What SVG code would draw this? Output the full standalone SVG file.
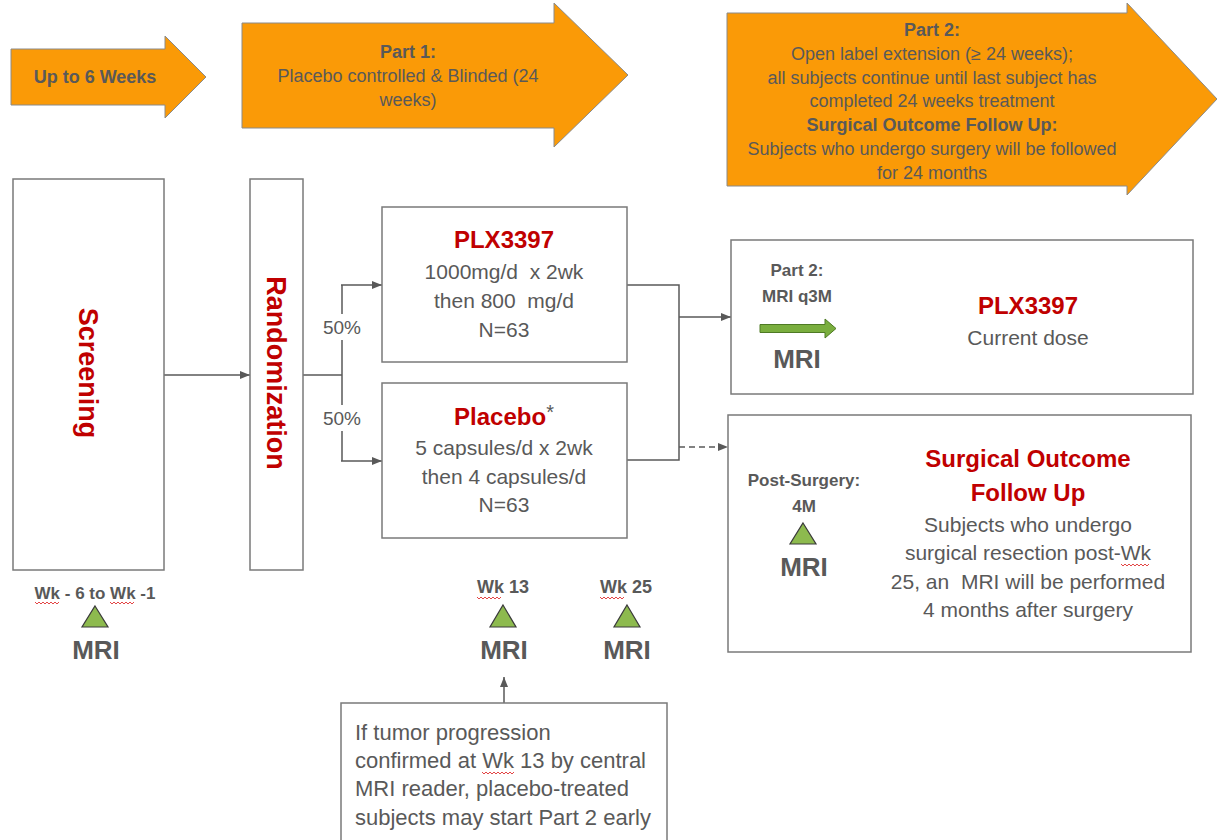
<svg xmlns="http://www.w3.org/2000/svg" width="1217" height="840" viewBox="0 0 1217 840">
<style>
.t{font-family:"Liberation Sans",Arial,sans-serif;fill:#595959;text-anchor:middle}
.b{font-weight:bold}
.r{fill:#C00000;font-weight:bold}
.pre{white-space:pre}
.box{fill:#fff;stroke:#7a7a7a;stroke-width:1.5}
.orange{fill:#FA9A07;stroke:#8a8a8a;stroke-width:1}
.c{fill:none;stroke:#595959;stroke-width:1.5}
.tri{fill:#8DBA4E;stroke:#3a3a3a;stroke-width:1.2}
.sq{fill:none;stroke:#e03030;stroke-width:0.9}
</style>
<defs>
<marker id="ah" viewBox="0 0 10 8" refX="10" refY="4" markerWidth="10" markerHeight="8" markerUnits="userSpaceOnUse" orient="auto">
<path d="M0,0 L10,4 L0,8 Z" fill="#595959"/>
</marker>
</defs>
<rect width="1217" height="840" fill="#fff"/>

<g id="arrow-weeks">
<polygon class="orange" points="11,49 165,49 165,36 206,77 165,118 165,105 11,105"/>
<text class="t b" x="95" y="83" font-size="18">Up to 6 Weeks</text>
</g>
<g id="arrow-part1">
<polygon class="orange" points="242,23 554,23 554,3 628,75 554,147 554,128 242,128"/>
<text class="t b" x="408" y="58" font-size="18">Part 1:</text>
<text class="t" x="408" y="82" font-size="18">Placebo controlled &amp; Blinded (24</text>
<text class="t" x="408" y="106" font-size="18">weeks)</text>
</g>
<g id="arrow-part2">
<polygon class="orange" points="727,13 1127,13 1127,3 1217,99 1127,195 1127,186 727,186"/>
<text class="t b" x="932" y="36" font-size="18">Part 2:</text>
<text class="t" x="932" y="60" font-size="18">Open label extension (≥ 24 weeks);</text>
<text class="t" x="932" y="84" font-size="18">all subjects continue until last subject has</text>
<text class="t" x="932" y="107" font-size="18">completed 24 weeks treatment</text>
<text class="t b" x="932" y="131" font-size="18">Surgical Outcome Follow Up:</text>
<text class="t" x="932" y="155" font-size="18">Subjects who undergo surgery will be followed</text>
<text class="t" x="932" y="179" font-size="18">for 24 months</text>
</g>

<g id="connectors">
<line class="c" x1="164" y1="375" x2="250" y2="375" marker-end="url(#ah)"/>
<line class="c" x1="303" y1="375" x2="342" y2="375" stroke-width="2.5"/>
<line class="c" x1="342" y1="285" x2="342" y2="461"/>
<line class="c" x1="341" y1="285" x2="382" y2="285" marker-end="url(#ah)"/>
<line class="c" x1="341" y1="461" x2="382" y2="461" marker-end="url(#ah)"/>
<polyline class="c" points="627,285 679,285 679,460 627,460"/>
<line class="c" x1="679" y1="317" x2="731" y2="317" stroke-width="2.5" marker-end="url(#ah)"/>
<line class="c" x1="679" y1="447" x2="728" y2="447" stroke-dasharray="6,4" marker-end="url(#ah)"/>
<line class="c" x1="504" y1="703" x2="504" y2="677" marker-end="url(#ah)"/>
<rect x="321" y="314" width="42" height="26" fill="#fff"/>
<rect x="321" y="405" width="42" height="26" fill="#fff"/>
<text class="t" x="342" y="334" font-size="19">50%</text>
<text class="t" x="342" y="425" font-size="19">50%</text>
</g>

<g id="screening">
<rect class="box" x="13" y="179" width="151" height="391"/>
<text class="t r" x="88" y="373" font-size="27" dominant-baseline="central" transform="rotate(90 88 373)">Screening</text>
</g>
<g id="randomization">
<rect class="box" x="250" y="179" width="53" height="391"/>
<text class="t r" x="276" y="373" font-size="27" dominant-baseline="central" transform="rotate(90 276 373)">Randomization</text>
</g>

<g id="plx-arm">
<rect class="box" x="382" y="207" width="245" height="155"/>
<text class="t r" x="504" y="248" font-size="24">PLX3397</text>
<text class="t pre" x="504" y="279" font-size="21">1000mg/d  x 2wk</text>
<text class="t pre" x="504" y="308" font-size="21">then 800  mg/d</text>
<text class="t" x="504" y="337" font-size="21">N=63</text>
</g>
<g id="placebo-arm">
<rect class="box" x="382" y="383" width="245" height="155"/>
<text class="t" x="504" y="425" font-size="24"><tspan class="r">Placebo</tspan><tspan font-size="20" dy="-6">*</tspan></text>
<text class="t" x="504" y="455" font-size="21">5 capsules/d x 2wk</text>
<text class="t" x="504" y="484" font-size="21">then 4 capsules/d</text>
<text class="t" x="504" y="512" font-size="21">N=63</text>
</g>

<g id="part2-plx">
<rect class="box" x="731" y="240" width="462" height="154"/>
<text class="t b" x="797" y="276" font-size="17">Part 2:</text>
<text class="t b" x="797" y="302" font-size="17">MRI q3M</text>
<polygon points="760,324.5 825,324.5 825,319 836,328.5 825,338 825,332.5 760,332.5" fill="#7AAE3E" stroke="#4E7A24" stroke-width="1"/>
<text class="t b" x="797" y="368" font-size="26">MRI</text>
<text class="t r" x="1028" y="314" font-size="24">PLX3397</text>
<text class="t" x="1028" y="345" font-size="21">Current dose</text>
</g>

<g id="surgical-followup">
<rect class="box" x="728" y="415" width="463" height="237"/>
<text class="t b" x="804" y="486" font-size="17">Post-Surgery:</text>
<text class="t b" x="804" y="512" font-size="17">4M</text>
<polygon class="tri" points="803,523 816,544 790,544"/>
<text class="t b" x="804" y="576" font-size="26">MRI</text>
<text class="t r" x="1028" y="467" font-size="24">Surgical Outcome</text>
<text class="t r" x="1028" y="501" font-size="24">Follow Up</text>
<text class="t" x="1028" y="532" font-size="21">Subjects who undergo</text>
<text class="t" x="1028" y="560" font-size="21">surgical resection post-Wk</text>
<text class="t pre" x="1028" y="589" font-size="21">25, an  MRI will be performed</text>
<text class="t" x="1028" y="617" font-size="21">4 months after surgery</text>
<path class="sq" d="M1121,564 l2,2 l2,-2 l2,2 l2,-2 l2,2 l2,-2 l2,2 l2,-2 l2,2 l2,-2 l2,2 l2,-2 l2,2 l2,-2"/>
</g>

<g id="mri-screening">
<text class="t b" x="95" y="599" font-size="17">Wk - 6 to Wk -1</text>
<path class="sq" d="M35,602 l2,2 l2,-2 l2,2 l2,-2 l2,2 l2,-2 l2,2 l2,-2 l2,2 l2,-2 l2,2 l2,-2"/>
<path class="sq" d="M110,602 l2,2 l2,-2 l2,2 l2,-2 l2,2 l2,-2 l2,2 l2,-2 l2,2 l2,-2 l2,2 l2,-2"/>
<polygon class="tri" points="95,606 108,627 82,627"/>
<text class="t b" x="96" y="659" font-size="26">MRI</text>
</g>
<g id="mri-wk13">
<text class="t b" x="503" y="593" font-size="18">Wk 13</text>
<path class="sq" d="M477,597 l2,2 l2,-2 l2,2 l2,-2 l2,2 l2,-2 l2,2 l2,-2 l2,2 l2,-2 l2,2 l2,-2"/>
<polygon class="tri" points="503,605 516,627 490,627"/>
<text class="t b" x="504" y="659" font-size="26">MRI</text>
</g>
<g id="mri-wk25">
<text class="t b" x="626" y="593" font-size="18">Wk 25</text>
<path class="sq" d="M600,597 l2,2 l2,-2 l2,2 l2,-2 l2,2 l2,-2 l2,2 l2,-2 l2,2 l2,-2 l2,2 l2,-2"/>
<polygon class="tri" points="627,605 640,627 614,627"/>
<text class="t b" x="627" y="659" font-size="26">MRI</text>
</g>

<g id="progression-note">
<rect class="box" x="341" y="703" width="326" height="160"/>
<text class="t" x="355" y="740" font-size="22" style="text-anchor:start">If tumor progression</text>
<text class="t" x="355" y="768" font-size="22" style="text-anchor:start">confirmed at Wk 13 by central</text>
<text class="t" x="355" y="796" font-size="22" style="text-anchor:start">MRI reader, placebo-treated</text>
<text class="t" x="355" y="825" font-size="22" style="text-anchor:start">subjects may start Part 2 early</text>
<path class="sq" d="M482,772 l2,2 l2,-2 l2,2 l2,-2 l2,2 l2,-2 l2,2 l2,-2 l2,2 l2,-2 l2,2 l2,-2 l2,2 l2,-2 l2,2 l2,-2"/>
</g>
</svg>
